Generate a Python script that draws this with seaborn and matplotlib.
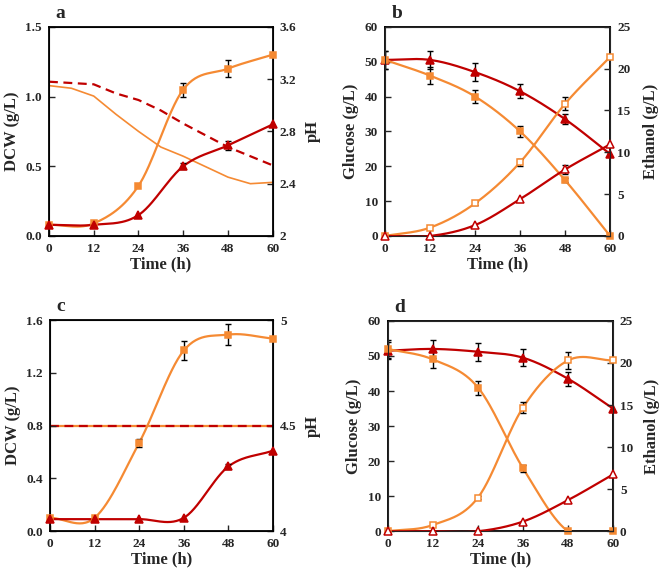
import numpy as np
import pandas as pd
import matplotlib
matplotlib.use("Agg")
import matplotlib.pyplot as plt
import seaborn as sns

# sampling times (h)
time = [0, 12, 24, 36, 48, 60]

# panel a: DCW (g/L) and pH
a_dcw_orange = [0.08, 0.09, 0.36, 1.05, 1.20, 1.30]
a_dcw_orange_err = [0, 0, 0, 0.05, 0.06, 0]
a_dcw_red = [0.08, 0.08, 0.15, 0.50, 0.65, 0.80]
a_dcw_red_err = [0, 0, 0, 0.02, 0.03, 0]
ph_time = [0, 6, 12, 18, 24, 30, 36, 42, 48, 54, 60]
a_ph_orange = [3.15, 3.13, 3.07, 2.93, 2.80, 2.68, 2.61, 2.53, 2.45, 2.40, 2.41]
a_ph_red = [3.18, 3.17, 3.16, 3.09, 3.04, 2.96, 2.86, 2.77, 2.68, 2.61, 2.54]

# panel b: glucose (left) and ethanol (right), g/L
b_glc_red = [50.5, 50.5, 47.0, 41.5, 33.5, 23.5]
b_glc_red_err = [2.5, 2.5, 2.5, 2.0, 1.5, 0]
b_glc_orange = [50.5, 46.0, 40.0, 30.0, 16.0, 0.0]
b_glc_orange_err = [2.5, 2.5, 2.0, 1.5, 0.5, 0]
b_eth_orange = [0.0, 1.0, 3.9, 8.8, 15.8, 21.4]
b_eth_orange_err = [0, 0, 0.2, 0.4, 0.8, 0]
b_eth_red = [0.0, 0.0, 1.3, 4.4, 7.95, 10.95]
b_eth_red_err = [0, 0, 0, 0, 0.5, 0]

# panel c: DCW (g/L) and pH
c_dcw_orange = [0.10, 0.10, 0.67, 1.37, 1.49, 1.46]
c_dcw_orange_err = [0, 0, 0.03, 0.07, 0.08, 0]
c_dcw_red = [0.09, 0.09, 0.09, 0.10, 0.49, 0.61]
c_dcw_red_err = [0, 0, 0, 0, 0.02, 0]
c_ph_orange = [4.5, 4.5, 4.5, 4.5, 4.5, 4.5]
c_ph_red = [4.5, 4.5, 4.5, 4.5, 4.5, 4.5]

# panel d: glucose (left) and ethanol (right), g/L
d_glc_red = [51.5, 52.0, 51.2, 49.5, 43.5, 35.0]
d_glc_red_err = [2.5, 2.5, 2.5, 2.5, 2.0, 0]
d_glc_orange = [52.0, 49.0, 41.0, 18.0, 0.0, 0.0]
d_glc_orange_err = [2.5, 2.5, 2.0, 1.0, 0, 0]
d_eth_orange = [0.0, 0.75, 4.0, 14.7, 20.3, 20.3]
d_eth_orange_err = [0, 0, 0.2, 0.7, 1.0, 0]
d_eth_red = [0.0, 0.0, 0.0, 1.15, 3.7, 6.75]
d_eth_red_err = [0, 0, 0, 0, 0, 0]

ORANGE = "#F58A33"
RED = "#C00000"

sns.set_style("ticks")
plt.rcParams["font.family"] = ["Liberation Serif", "DejaVu Serif"]
plt.rcParams["font.weight"] = "bold"
plt.rcParams["xtick.direction"] = "in"
plt.rcParams["ytick.direction"] = "in"
plt.rcParams["xtick.labelsize"] = 9.5
plt.rcParams["ytick.labelsize"] = 9.5


def smooth(x, y, n=30):
    # Catmull-Rom spline, like Excel's smoothed lines
    x = np.asarray(x, float)
    y = np.asarray(y, float)
    xs, ys = [], []
    for i in range(len(x) - 1):
        x0 = x[i - 1] if i > 0 else 2 * x[0] - x[1]
        y0 = y[i - 1] if i > 0 else 2 * y[0] - y[1]
        x3 = x[i + 2] if i + 2 < len(x) else 2 * x[-1] - x[-2]
        y3 = y[i + 2] if i + 2 < len(y) else 2 * y[-1] - y[-2]
        t = np.linspace(0, 1, n, endpoint=False)
        for p0, p1, p2, p3, out in ((x0, x[i], x[i + 1], x3, xs), (y0, y[i], y[i + 1], y3, ys)):
            out.append(0.5 * (2 * p1 + (-p0 + p2) * t + (2 * p0 - 5 * p1 + 4 * p2 - p3) * t ** 2
                              + (-p0 + 3 * p1 - 3 * p2 + p3) * t ** 3))
    xs.append([x[-1]])
    ys.append([y[-1]])
    return pd.DataFrame({"x": np.concatenate(xs), "y": np.concatenate(ys)})


def series(ax, y, err, color, marker, filled=True, ls="-"):
    df = smooth(time, y)
    sns.lineplot(data=df, x="x", y="y", ax=ax, color=color, lw=1.6, ls=ls,
                 sort=False, estimator=None, zorder=2)
    ax.errorbar(time, y, yerr=[e if e > 0 else np.nan for e in err], fmt="none",
                ecolor="black", elinewidth=1.0, capsize=2.3, capthick=1.0, zorder=3)
    ax.plot(time, y, ls="none", marker=marker, ms=5 if marker == "s" else 5.8,
            mfc=color if filled else "white", mec=color, mew=1.1, zorder=4, clip_on=False)


def style(ax, label):
    for s in ax.spines.values():
        s.set_linewidth(1.3)
        s.set_color("black")
    ax.set_xlim(0, 60)
    ax.set_xticks(time)
    ax.set_xlabel("Time (h)", fontsize=12, fontweight="bold", labelpad=1)
    ax.tick_params(length=4, width=1.0, pad=5)
    ax.text(0.03, 1.025, label, transform=ax.transAxes, fontsize=14, fontweight="bold",
            ha="left", va="bottom")


def right_label(axr, text, pad=6):
    axr.set_ylabel(text, fontsize=12, fontweight="bold", rotation=90, labelpad=pad)
    axr.tick_params(length=4, width=1.0, pad=5)


fig = plt.figure(figsize=(6.62, 5.70), dpi=100)

# ---- panel a
ax = fig.add_axes([0.074, 0.586, 0.338, 0.367])
axr = ax.twinx()
sns.lineplot(x=ph_time, y=a_ph_orange, ax=axr, color=ORANGE, lw=1.2)
sns.lineplot(x=ph_time, y=a_ph_red, ax=axr, color=RED, lw=1.6, ls=(0, (4, 2.5)))
series(ax, a_dcw_orange, a_dcw_orange_err, ORANGE, "s")
series(ax, a_dcw_red, a_dcw_red_err, RED, "^")
ax.set_zorder(axr.get_zorder() + 1)
ax.patch.set_visible(False)
ax.set_ylim(0, 1.5)
ax.set_yticks([0, 0.5, 1.0, 1.5])
ax.set_yticklabels(["0.0", "0.5", "1.0", "1.5"])
axr.set_ylim(2, 3.6)
axr.set_yticks([2, 2.4, 2.8, 3.2, 3.6])
axr.set_yticklabels(["2", "2.4", "2.8", "3.2", "3.6"])
ax.set_ylabel("DCW (g/L)", fontsize=12, fontweight="bold")
right_label(axr, "pH")
style(ax, "a")

# ---- panel b
ax = fig.add_axes([0.5816, 0.586, 0.340, 0.367])
axr = ax.twinx()
series(ax, b_glc_red, b_glc_red_err, RED, "^")
series(ax, b_glc_orange, b_glc_orange_err, ORANGE, "s")
series(axr, b_eth_orange, b_eth_orange_err, ORANGE, "s", filled=False)
series(axr, b_eth_red, b_eth_red_err, RED, "^", filled=False)
ax.set_ylim(0, 60)
ax.set_yticks(range(0, 61, 10))
axr.set_ylim(0, 25)
axr.set_yticks(range(0, 26, 5))
ax.set_ylabel("Glucose (g/L)", fontsize=12, fontweight="bold")
right_label(axr, "Ethanol (g/L)", pad=9)
style(ax, "b")

# ---- panel c
ax = fig.add_axes([0.0755, 0.0684, 0.337, 0.370])
axr = ax.twinx()
sns.lineplot(x=time, y=c_ph_orange, ax=axr, color=ORANGE, lw=1.6)
sns.lineplot(x=time, y=c_ph_red, ax=axr, color=RED, lw=1.6, ls=(0, (4, 2.5)))
series(ax, c_dcw_orange, c_dcw_orange_err, ORANGE, "s")
series(ax, c_dcw_red, c_dcw_red_err, RED, "^")
ax.set_zorder(axr.get_zorder() + 1)
ax.patch.set_visible(False)
ax.set_ylim(0, 1.6)
ax.set_yticks([0, 0.4, 0.8, 1.2, 1.6])
ax.set_yticklabels(["0.0", "0.4", "0.8", "1.2", "1.6"])
axr.set_ylim(4, 5)
axr.set_yticks([4, 4.5, 5])
axr.set_yticklabels(["4", "4.5", "5"])
ax.set_ylabel("DCW (g/L)", fontsize=12, fontweight="bold")
right_label(axr, "pH")
style(ax, "c")

# ---- panel d
ax = fig.add_axes([0.586, 0.068, 0.340, 0.369])
axr = ax.twinx()
series(ax, d_glc_red, d_glc_red_err, RED, "^")
series(ax, d_glc_orange, d_glc_orange_err, ORANGE, "s")
series(axr, d_eth_orange, d_eth_orange_err, ORANGE, "s", filled=False)
series(axr, d_eth_red, d_eth_red_err, RED, "^", filled=False)
ax.set_ylim(0, 60)
ax.set_yticks(range(0, 61, 10))
axr.set_ylim(0, 25)
axr.set_yticks(range(0, 26, 5))
ax.set_ylabel("Glucose (g/L)", fontsize=12, fontweight="bold")
right_label(axr, "Ethanol (g/L)", pad=8)
style(ax, "d")

for a in fig.axes:
    for lab in a.get_xticklabels() + a.get_yticklabels():
        lab.set_fontweight("bold")

fig.savefig("out.png", dpi=100)
